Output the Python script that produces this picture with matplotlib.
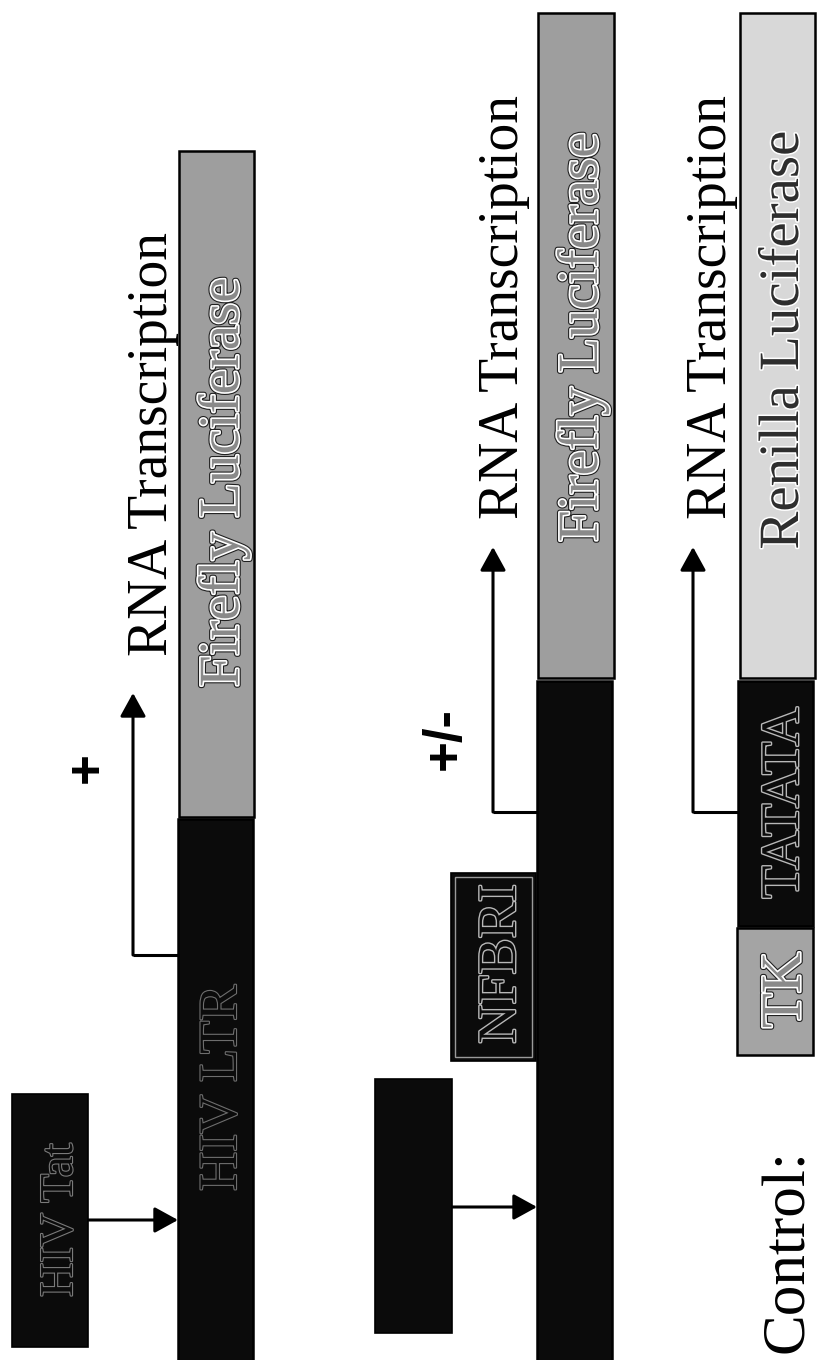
import matplotlib.pyplot as plt
from matplotlib.patches import Rectangle
import matplotlib.patheffects as pe

W, H = 818, 1360

# construct segments (pixel coords of the page, y grows downward)
seg_kind = ['firefly', 'ltr', 'firefly', 'ltr', 'renilla', 'tata', 'tk']
seg_x0 = [179, 178, 538, 537, 740, 738, 737]
seg_x1 = [254, 253, 614, 612, 815, 813, 813]
seg_y0 = [151, 819, 13, 681, 13, 681, 928]
seg_y1 = [817, 1362, 678, 1362, 678, 926, 1055]

# protein / enhancer boxes
box_kind = ['tat', 'tat', 'nfbri']
box_x0 = [12, 375, 451]
box_x1 = [88, 452, 536]
box_y0 = [1094, 1079, 873]
box_y1 = [1347, 1333, 1061]

# transcription start arrows
tss_start_x = [178, 537, 738]
tss_y = [955, 812, 812]
tss_corner_x = [133, 493, 693]
tss_tip_y = [693, 547, 547]

# protein -> promoter arrows
act_x0 = [88, 452]
act_x1 = [178, 537]
act_y = [1220, 1207]

# labels: text, baseline x, centre y, style
lab_text = ['RNA Transcription', 'RNA Transcription', 'RNA Transcription',
            'Firefly Luciferase', 'Firefly Luciferase', 'Renilla Luciferase',
            'HIV LTR', 'NFBRI', 'TATATA', 'TK', 'HIV Tat', 'Control:']
lab_x = [167, 518, 726, 238, 597, 798, 236, 515, 798, 800, 72, 803]
lab_y = [444, 307, 307, 482, 337, 340, 1088, 964, 803, 990, 1220, 1251]
lab_style = ['plain', 'plain', 'plain', 'fire', 'fire', 'ren',
             'ltr', 'dark', 'dark', 'fire', 'faint', 'control']

signs = ['+', '+/-']
sign_x = [88, 446]
sign_y = [768, 738]

fill = {'firefly': '#9e9e9e', 'ltr': '#0b0b0b', 'renilla': '#d8d8d8',
        'tata': '#0b0b0b', 'tk': '#a4a4a4', 'tat': '#0b0b0b', 'nfbri': '#0b0b0b'}

fig = plt.figure(figsize=(W / 100, H / 100), dpi=100)
ax = fig.add_axes([0, 0, 1, 1])
ax.set_xlim(0, W)
ax.set_ylim(H, 0)
ax.axis('off')

for k, x0, x1, y0, y1 in zip(seg_kind, seg_x0, seg_x1, seg_y0, seg_y1):
    ax.add_patch(Rectangle((x0, y0), x1 - x0, y1 - y0, facecolor=fill[k],
                           edgecolor='black', linewidth=1.8, zorder=2))

for k, x0, x1, y0, y1 in zip(box_kind, box_x0, box_x1, box_y0, box_y1):
    ax.add_patch(Rectangle((x0, y0), x1 - x0, y1 - y0, facecolor=fill[k],
                           edgecolor='black', linewidth=1.2, zorder=2))
    if k == 'nfbri':
        ax.add_patch(Rectangle((x0 + 4, y0 + 4), x1 - x0 - 8, y1 - y0 - 8,
                               facecolor='none', edgecolor='#9a9a9a',
                               linewidth=1.0, zorder=3))

head = dict(arrowstyle='-|>,head_length=0.4,head_width=0.22',
            mutation_scale=36, color='black', lw=2.2, shrinkA=0, shrinkB=0)

for sx, y, cx, ty in zip(tss_start_x, tss_y, tss_corner_x, tss_tip_y):
    ax.plot([sx, cx], [y, y], color='black', lw=2.2, solid_capstyle='butt', zorder=1)
    ax.annotate('', xy=(cx, ty), xytext=(cx, y), arrowprops=head, zorder=1)

for x0, x1, y in zip(act_x0, act_x1, act_y):
    ax.annotate('', xy=(x1, y), xytext=(x0, y), arrowprops=head, zorder=1)

styles = {
    'plain': dict(color='black', fontsize=40, pe=None),
    'control': dict(color='black', fontsize=44, pe=None),
    'fire': dict(color='#8a8a8a', fontsize=41,
                 pe=[pe.Stroke(linewidth=4, foreground='#202020'),
                     pe.Stroke(linewidth=2.4, foreground='white'), pe.Normal()]),
    'ren': dict(color='#2e2e2e', fontsize=41,
                pe=[pe.Stroke(linewidth=2.2, foreground='white'), pe.Normal()]),
    'dark': dict(color='#0b0b0b', fontsize=39,
                 pe=[pe.Stroke(linewidth=2.0, foreground='#b8b8b8'), pe.Normal()]),
    'ltr': dict(color='#0b0b0b', fontsize=39,
                pe=[pe.Stroke(linewidth=1.6, foreground='#6e6e6e'), pe.Normal()]),
    'faint': dict(color='#0b0b0b', fontsize=34,
                  pe=[pe.Stroke(linewidth=1.6, foreground='#7a7a7a'), pe.Normal()]),
}

for t, x, y, s in zip(lab_text, lab_x, lab_y, lab_style):
    st = styles[s]
    ax.text(x, y, t, rotation=90, rotation_mode='anchor', ha='center',
            va='baseline', fontsize=st['fontsize'], color=st['color'],
            family='Liberation Serif', path_effects=st['pe'], zorder=4)

for t, x, y in zip(signs, sign_x, sign_y):
    ax.text(x, y, t, rotation=90, ha='center', va='center', fontsize=38,
            fontweight='bold', family='Liberation Sans', color='black', zorder=4)

fig.savefig('out.png', dpi=100, facecolor='white')
